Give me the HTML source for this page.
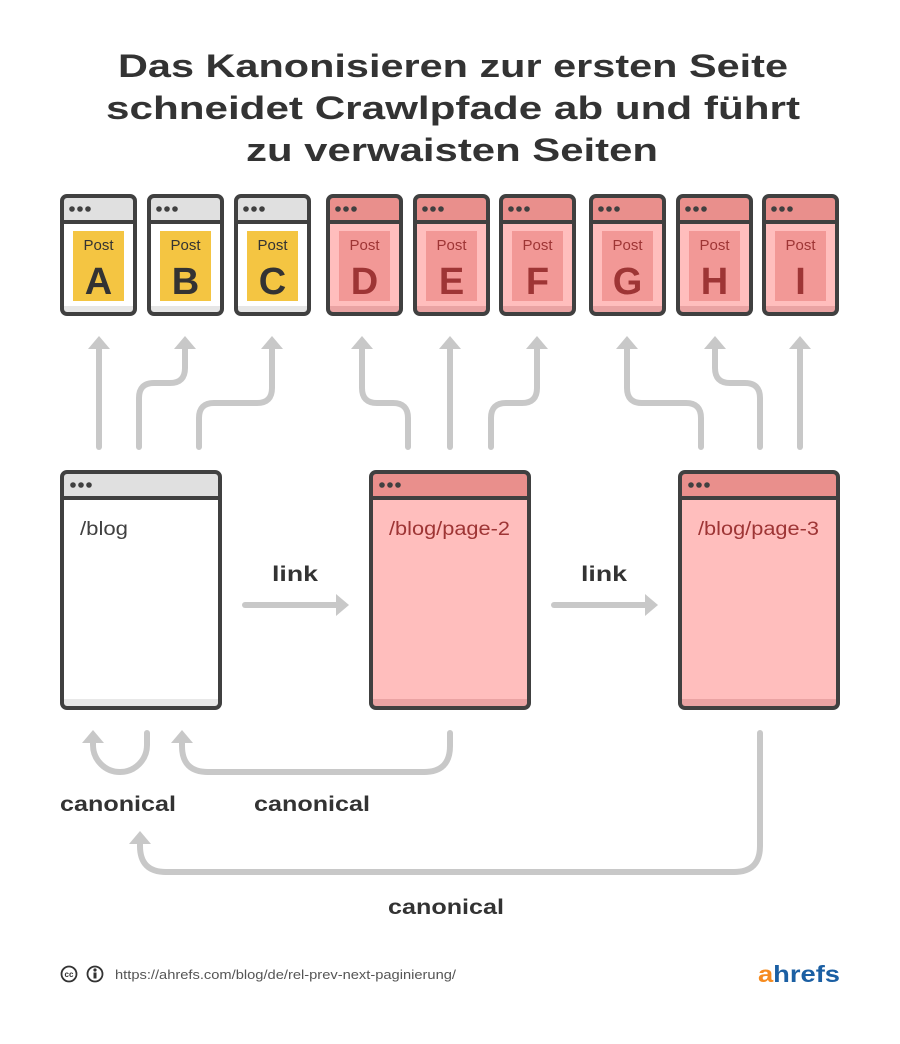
<!DOCTYPE html>
<html><head><meta charset="utf-8"><style>
html,body{margin:0;padding:0;background:#fff}
svg{display:block}
text{font-family:"Liberation Sans",sans-serif}
</style></head><body>
<svg width="900" height="1044" viewBox="0 0 900 1044" xmlns="http://www.w3.org/2000/svg">
<g fill="#333" font-weight="bold" font-size="32" text-anchor="middle">
<text x="453" y="77" textLength="670" lengthAdjust="spacingAndGlyphs">Das Kanonisieren zur ersten Seite</text>
<text x="453" y="119" textLength="694" lengthAdjust="spacingAndGlyphs">schneidet Crawlpfade ab und führt</text>
<text x="452" y="161" textLength="412" lengthAdjust="spacingAndGlyphs">zu verwaisten Seiten</text>
</g>

<defs>
<g id="dots"><circle cx="0" cy="0" r="2.8"/><circle cx="8" cy="0" r="2.8"/><circle cx="16" cy="0" r="2.8"/></g>
</defs>

<g>
 <rect x="62" y="196" width="73" height="118" rx="5" fill="#fff"/>
 <rect x="62" y="196" width="73" height="27" rx="4" fill="#e0e0e0"/>
 <rect x="62" y="306" width="73" height="8" fill="#e6e6e6"/>
 <rect x="73" y="231" width="51" height="70" fill="#f4c542"/>
 <line x1="62" y1="222" x2="135" y2="222" stroke="#404040" stroke-width="4"/>
 <rect x="62" y="196" width="73" height="118" rx="5" fill="none" stroke="#404040" stroke-width="4"/>
 <g fill="#404040" transform="translate(72,209)"><use href="#dots"/></g>
 <text x="98.5" y="250" font-size="15" fill="#333" text-anchor="middle">Post</text>
 <text x="98.5" y="294" font-size="38" font-weight="bold" fill="#333" text-anchor="middle">A</text>
</g>
<g transform="translate(87,0)">
 <rect x="62" y="196" width="73" height="118" rx="5" fill="#fff"/>
 <rect x="62" y="196" width="73" height="27" rx="4" fill="#e0e0e0"/>
 <rect x="62" y="306" width="73" height="8" fill="#e6e6e6"/>
 <rect x="73" y="231" width="51" height="70" fill="#f4c542"/>
 <line x1="62" y1="222" x2="135" y2="222" stroke="#404040" stroke-width="4"/>
 <rect x="62" y="196" width="73" height="118" rx="5" fill="none" stroke="#404040" stroke-width="4"/>
 <g fill="#404040" transform="translate(72,209)"><use href="#dots"/></g>
 <text x="98.5" y="250" font-size="15" fill="#333" text-anchor="middle">Post</text>
 <text x="98.5" y="294" font-size="38" font-weight="bold" fill="#333" text-anchor="middle">B</text>
</g>
<g transform="translate(174,0)">
 <rect x="62" y="196" width="73" height="118" rx="5" fill="#fff"/>
 <rect x="62" y="196" width="73" height="27" rx="4" fill="#e0e0e0"/>
 <rect x="62" y="306" width="73" height="8" fill="#e6e6e6"/>
 <rect x="73" y="231" width="51" height="70" fill="#f4c542"/>
 <line x1="62" y1="222" x2="135" y2="222" stroke="#404040" stroke-width="4"/>
 <rect x="62" y="196" width="73" height="118" rx="5" fill="none" stroke="#404040" stroke-width="4"/>
 <g fill="#404040" transform="translate(72,209)"><use href="#dots"/></g>
 <text x="98.5" y="250" font-size="15" fill="#333" text-anchor="middle">Post</text>
 <text x="98.5" y="294" font-size="38" font-weight="bold" fill="#333" text-anchor="middle">C</text>
</g>

<g transform="translate(266,0)">
 <rect x="62" y="196" width="73" height="118" rx="5" fill="#ffbebd"/>
 <rect x="62" y="196" width="73" height="27" rx="4" fill="#e98f8c"/>
 <rect x="62" y="306" width="73" height="8" fill="#eaa3a3"/>
 <rect x="73" y="231" width="51" height="70" fill="#f29896"/>
 <line x1="62" y1="222" x2="135" y2="222" stroke="#404040" stroke-width="4"/>
 <rect x="62" y="196" width="73" height="118" rx="5" fill="none" stroke="#404040" stroke-width="4"/>
 <g fill="#404040" transform="translate(72,209)"><use href="#dots"/></g>
 <text x="98.5" y="250" font-size="15" fill="#9e3535" text-anchor="middle">Post</text>
 <text x="98.5" y="294" font-size="38" font-weight="bold" fill="#9e3535" text-anchor="middle">D</text>
</g>
<g transform="translate(353,0)">
 <rect x="62" y="196" width="73" height="118" rx="5" fill="#ffbebd"/>
 <rect x="62" y="196" width="73" height="27" rx="4" fill="#e98f8c"/>
 <rect x="62" y="306" width="73" height="8" fill="#eaa3a3"/>
 <rect x="73" y="231" width="51" height="70" fill="#f29896"/>
 <line x1="62" y1="222" x2="135" y2="222" stroke="#404040" stroke-width="4"/>
 <rect x="62" y="196" width="73" height="118" rx="5" fill="none" stroke="#404040" stroke-width="4"/>
 <g fill="#404040" transform="translate(72,209)"><use href="#dots"/></g>
 <text x="98.5" y="250" font-size="15" fill="#9e3535" text-anchor="middle">Post</text>
 <text x="98.5" y="294" font-size="38" font-weight="bold" fill="#9e3535" text-anchor="middle">E</text>
</g>
<g transform="translate(439,0)">
 <rect x="62" y="196" width="73" height="118" rx="5" fill="#ffbebd"/>
 <rect x="62" y="196" width="73" height="27" rx="4" fill="#e98f8c"/>
 <rect x="62" y="306" width="73" height="8" fill="#eaa3a3"/>
 <rect x="73" y="231" width="51" height="70" fill="#f29896"/>
 <line x1="62" y1="222" x2="135" y2="222" stroke="#404040" stroke-width="4"/>
 <rect x="62" y="196" width="73" height="118" rx="5" fill="none" stroke="#404040" stroke-width="4"/>
 <g fill="#404040" transform="translate(72,209)"><use href="#dots"/></g>
 <text x="98.5" y="250" font-size="15" fill="#9e3535" text-anchor="middle">Post</text>
 <text x="98.5" y="294" font-size="38" font-weight="bold" fill="#9e3535" text-anchor="middle">F</text>
</g>
<g transform="translate(529,0)">
 <rect x="62" y="196" width="73" height="118" rx="5" fill="#ffbebd"/>
 <rect x="62" y="196" width="73" height="27" rx="4" fill="#e98f8c"/>
 <rect x="62" y="306" width="73" height="8" fill="#eaa3a3"/>
 <rect x="73" y="231" width="51" height="70" fill="#f29896"/>
 <line x1="62" y1="222" x2="135" y2="222" stroke="#404040" stroke-width="4"/>
 <rect x="62" y="196" width="73" height="118" rx="5" fill="none" stroke="#404040" stroke-width="4"/>
 <g fill="#404040" transform="translate(72,209)"><use href="#dots"/></g>
 <text x="98.5" y="250" font-size="15" fill="#9e3535" text-anchor="middle">Post</text>
 <text x="98.5" y="294" font-size="38" font-weight="bold" fill="#9e3535" text-anchor="middle">G</text>
</g>
<g transform="translate(616,0)">
 <rect x="62" y="196" width="73" height="118" rx="5" fill="#ffbebd"/>
 <rect x="62" y="196" width="73" height="27" rx="4" fill="#e98f8c"/>
 <rect x="62" y="306" width="73" height="8" fill="#eaa3a3"/>
 <rect x="73" y="231" width="51" height="70" fill="#f29896"/>
 <line x1="62" y1="222" x2="135" y2="222" stroke="#404040" stroke-width="4"/>
 <rect x="62" y="196" width="73" height="118" rx="5" fill="none" stroke="#404040" stroke-width="4"/>
 <g fill="#404040" transform="translate(72,209)"><use href="#dots"/></g>
 <text x="98.5" y="250" font-size="15" fill="#9e3535" text-anchor="middle">Post</text>
 <text x="98.5" y="294" font-size="38" font-weight="bold" fill="#9e3535" text-anchor="middle">H</text>
</g>
<g transform="translate(702,0)">
 <rect x="62" y="196" width="73" height="118" rx="5" fill="#ffbebd"/>
 <rect x="62" y="196" width="73" height="27" rx="4" fill="#e98f8c"/>
 <rect x="62" y="306" width="73" height="8" fill="#eaa3a3"/>
 <rect x="73" y="231" width="51" height="70" fill="#f29896"/>
 <line x1="62" y1="222" x2="135" y2="222" stroke="#404040" stroke-width="4"/>
 <rect x="62" y="196" width="73" height="118" rx="5" fill="none" stroke="#404040" stroke-width="4"/>
 <g fill="#404040" transform="translate(72,209)"><use href="#dots"/></g>
 <text x="98.5" y="250" font-size="15" fill="#9e3535" text-anchor="middle">Post</text>
 <text x="98.5" y="294" font-size="38" font-weight="bold" fill="#9e3535" text-anchor="middle">I</text>
</g>

<g fill="none" stroke="#c8c8c8" stroke-width="6" stroke-linecap="round">
 <path d="M99 447 V348"/>
 <path d="M139 447 V398 Q139 383 154 383 H170 Q185 383 185 368 V348"/>
 <path d="M199 447 V418 Q199 403 214 403 H257 Q272 403 272 388 V348"/>
 <path d="M408 447 V418 Q408 403 393 403 H377 Q362 403 362 388 V348"/>
 <path d="M450 447 V348"/>
 <path d="M491 447 V418 Q491 403 506 403 H522 Q537 403 537 388 V348"/>
 <path d="M701 447 V418 Q701 403 686 403 H642 Q627 403 627 388 V348"/>
 <path d="M760 447 V398 Q760 383 745 383 H730 Q715 383 715 368 V348"/>
 <path d="M800 447 V348"/>
</g>
<g fill="#c8c8c8">
 <polygon points="99,336 88,349 110,349"/>
 <polygon points="185,336 174,349 196,349"/>
 <polygon points="272,336 261,349 283,349"/>
 <polygon points="362,336 351,349 373,349"/>
 <polygon points="450,336 439,349 461,349"/>
 <polygon points="537,336 526,349 548,349"/>
 <polygon points="627,336 616,349 638,349"/>
 <polygon points="715,336 704,349 726,349"/>
 <polygon points="800,336 789,349 811,349"/>
</g>

<g>
 <rect x="62" y="472" width="158" height="236" rx="5" fill="#fff"/>
 <rect x="62" y="472" width="158" height="27" rx="4" fill="#e0e0e0"/>
 <rect x="62" y="699" width="158" height="8" fill="#e8e8e8"/>
 <line x1="62" y1="498" x2="220" y2="498" stroke="#404040" stroke-width="4"/>
 <rect x="62" y="472" width="158" height="236" rx="5" fill="none" stroke="#404040" stroke-width="4"/>
 <g fill="#404040" transform="translate(73,485)"><use href="#dots"/></g>
 <text x="80" y="535" font-size="19" fill="#404040" textLength="48" lengthAdjust="spacingAndGlyphs">/blog</text>
</g>
<g>
 <rect x="371" y="472" width="158" height="236" rx="5" fill="#ffbebd"/>
 <rect x="371" y="472" width="158" height="27" rx="4" fill="#e98f8c"/>
 <rect x="371" y="699" width="158" height="8" fill="#eaa3a3"/>
 <line x1="371" y1="498" x2="529" y2="498" stroke="#404040" stroke-width="4"/>
 <rect x="371" y="472" width="158" height="236" rx="5" fill="none" stroke="#404040" stroke-width="4"/>
 <g fill="#404040" transform="translate(382,485)"><use href="#dots"/></g>
 <text x="389" y="535" font-size="19" fill="#9e3535" textLength="121" lengthAdjust="spacingAndGlyphs">/blog/page-2</text>
</g>
<g>
 <rect x="680" y="472" width="158" height="236" rx="5" fill="#ffbebd"/>
 <rect x="680" y="472" width="158" height="27" rx="4" fill="#e98f8c"/>
 <rect x="680" y="699" width="158" height="8" fill="#eaa3a3"/>
 <line x1="680" y1="498" x2="838" y2="498" stroke="#404040" stroke-width="4"/>
 <rect x="680" y="472" width="158" height="236" rx="5" fill="none" stroke="#404040" stroke-width="4"/>
 <g fill="#404040" transform="translate(691,485)"><use href="#dots"/></g>
 <text x="698" y="535" font-size="19" fill="#9e3535" textLength="121" lengthAdjust="spacingAndGlyphs">/blog/page-3</text>
</g>

<g fill="#333" font-weight="bold" font-size="21">
 <text x="272" y="581" textLength="46" lengthAdjust="spacingAndGlyphs">link</text>
 <text x="581" y="581" textLength="46" lengthAdjust="spacingAndGlyphs">link</text>
</g>
<g fill="none" stroke="#c8c8c8" stroke-width="6" stroke-linecap="round">
 <path d="M245 605 H337"/>
 <path d="M554 605 H646"/>
 <path d="M147 733 V745 A27 27 0 0 1 93 745 V742"/>
 <path d="M450 733 V746 Q450 772 424 772 H208 Q182 772 182 746 V742"/>
 <path d="M760 733 V846 Q760 872 734 872 H166 Q140 872 140 846 V843"/>
</g>
<g fill="#c8c8c8">
 <polygon points="349,605 336,594 336,616"/>
 <polygon points="658,605 645,594 645,616"/>
 <polygon points="93,730 82,743 104,743"/>
 <polygon points="182,730 171,743 193,743"/>
 <polygon points="140,831 129,844 151,844"/>
</g>
<g fill="#333" font-weight="bold" font-size="21">
 <text x="60" y="811" textLength="116" lengthAdjust="spacingAndGlyphs">canonical</text>
 <text x="254" y="811" textLength="116" lengthAdjust="spacingAndGlyphs">canonical</text>
 <text x="388" y="914" textLength="116" lengthAdjust="spacingAndGlyphs">canonical</text>
</g>

<g fill="none" stroke="#333" stroke-width="1.8">
 <circle cx="69" cy="974" r="7.5"/>
 <circle cx="95" cy="974" r="7.5"/>
</g>
<text x="69" y="977" font-size="8" font-weight="bold" fill="#333" text-anchor="middle">cc</text>
<circle cx="95" cy="970" r="1.6" fill="#333"/>
<rect x="93.5" y="972.5" width="3" height="6" fill="#333"/>
<text x="115" y="979" font-size="13" fill="#555" textLength="341" lengthAdjust="spacingAndGlyphs">https://ahrefs.com/blog/de/rel-prev-next-paginierung/</text>
<text x="758" y="982" font-size="23" font-weight="bold" textLength="82" lengthAdjust="spacingAndGlyphs"><tspan fill="#f68b1f">a</tspan><tspan fill="#1b5fa3">hrefs</tspan></text>
</svg>
</body></html>
